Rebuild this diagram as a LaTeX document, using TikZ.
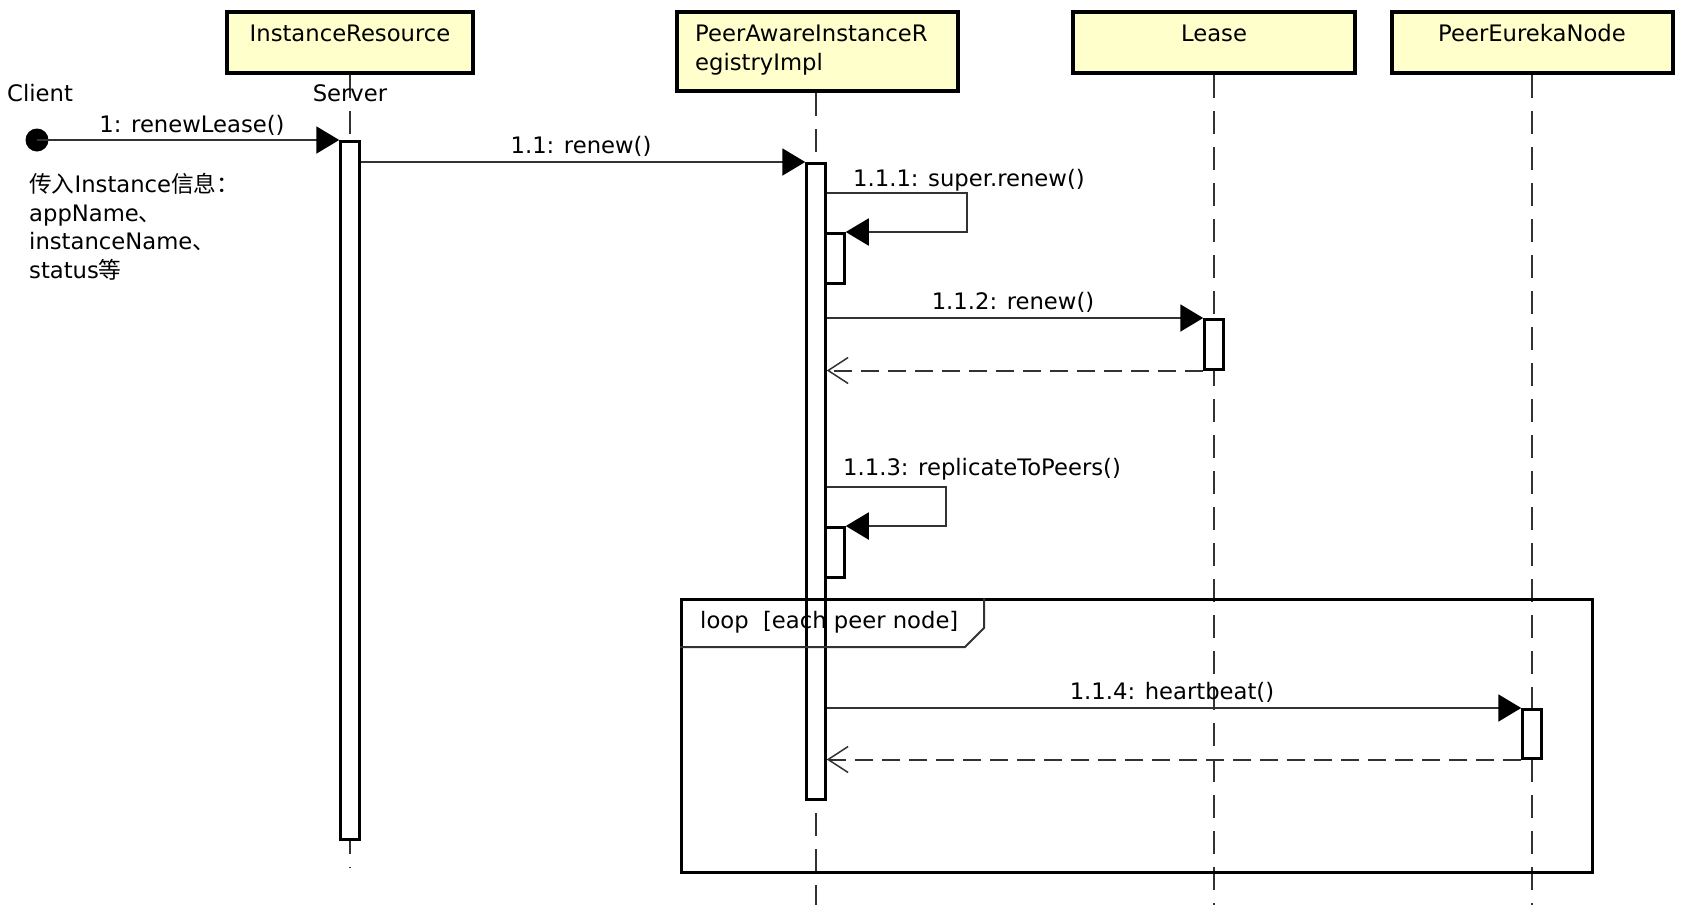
\documentclass[tikz,border=0pt]{standalone}
\usepackage{fontspec}
\setmainfont{DejaVu Sans}
\newfontfamily\cjk{Noto Sans CJK SC}
\usetikzlibrary{arrows.meta}
\definecolor{boxfill}{RGB}{255,255,204}
\definecolor{linegray}{RGB}{50,50,50}
\tikzset{
  cls/.style={draw=black, line width=4pt, fill=boxfill, inner sep=0, anchor=north},
  life/.style={draw=linegray, line width=2pt, dash pattern=on 23pt off 13pt},
  act/.style={draw=black, line width=2.5pt, fill=white, inner sep=0, minimum width=19pt, anchor=north},
  msg/.style={draw=linegray, line width=2pt, -{Triangle[length=23pt,width=27pt,color=black]}},
  ret/.style={draw=linegray, line width=2pt, dash pattern=on 18pt off 9pt, -{Straight Barb[length=20pt,width=26pt,line width=1.5pt]}},
  lbl/.style={inner sep=0, anchor=base},
  lblw/.style={inner sep=0, anchor=base west},
}
\begin{document}
\begin{tikzpicture}[x=1pt, y=-1pt, font=\fontsize{22.7}{28.5}\selectfont]
\useasboundingbox (0,0) rectangle (1684,916);
% lifeline boxes
\node[cls, minimum width=246pt, minimum height=61pt] (ir) at (350,10) {};
\node[cls, minimum width=281pt, minimum height=79pt, anchor=north west] (pa) at (675,10) {};
\node[cls, minimum width=282pt, minimum height=61pt] (lease) at (1214,10) {};
\node[cls, minimum width=281pt, minimum height=61pt] (pen) at (1532,10) {};
\node[lbl] (irt) at (350,41) {InstanceResource};
\node[lblw, align=left] (pat) at (695,70) {PeerAwareInstanceR\\egistryImpl};
\node[lbl] (leaset) at (1214,41) {Lease};
\node[lbl] (pent) at (1532,41) {PeerEurekaNode};
% lifelines
\coordinate (irend) at (350,868);
\coordinate (paend) at (816,905);
\coordinate (leaseend) at (1214,905);
\coordinate (penend) at (1532,905);
\draw[life] (ir.south) -- (irend);
\draw[life] (pa.south -| paend) -- (paend);
\draw[life] (lease.south) -- (leaseend);
\draw[life] (pen.south) -- (penend);
% actor labels
\node[lblw] (client) at (7,101) {Client};
\node[lbl] (server) at (350,101) {Server};
% activations
\node[act, minimum height=698pt] (a1) at (350,140) {};
\node[act, minimum height=636pt] (a2) at (816,162) {};
\node[act, minimum height=50pt] (a3) at (835,232) {};
\node[act, minimum height=50pt] (a4) at (1214,318) {};
\node[act, minimum height=50pt] (a5) at (835,526) {};
\node[act, minimum height=49pt] (a6) at (1532,708) {};
% client dot
\node[circle, fill=black, minimum size=23pt, inner sep=0] (dot) at (37,140) {};
% messages
\draw[msg] (dot.center) -- (a1.north west);
\node[lbl] (m1) at (192,132) {1: renewLease()};
\draw[msg] (a1.east |- 0,162) -- (a2.north west);
\node[lbl] (m11) at (581,153) {1.1: renew()};
\coordinate (s1a) at (967,193);
\coordinate (s1b) at (967,232);
\draw[msg] (a2.east |- s1a) -- (s1a) -- (s1b) -- (a3.north east);
\node[lblw] (m111) at (853,186) {1.1.1: super.renew()};
\draw[msg] (a2.east |- a4.north) -- (a4.north west);
\node[lbl] (m112) at (1013,309) {1.1.2: renew()};
\draw[ret] (a4.south west) -- (a2.east |- a4.south);
\coordinate (s2a) at (946,487);
\coordinate (s2b) at (946,526);
\draw[msg] (a2.east |- s2a) -- (s2a) -- (s2b) -- (a5.north east);
\node[lblw] (m113) at (843,475) {1.1.3: replicateToPeers()};
\draw[msg] (a2.east |- a6.north) -- (a6.north west);
\node[lbl] (m114) at (1172,699) {1.1.4: heartbeat()};
\draw[ret] (a6.south west) -- (a2.east |- a6.south);
% note
\node[lblw, align=left] (note) at (29,278) {{\cjk 传入}Instance{\cjk 信息：}\\appName{\cjk 、}\\instanceName{\cjk 、}\\status{\cjk 等}};
% loop frame
\node[draw=black, line width=3pt, minimum width=911pt, minimum height=273pt, anchor=north west, inner sep=0] (frame) at (680,598) {};
\coordinate (pg1) at (984,598);
\coordinate (pg2) at (984,628);
\coordinate (pg3) at (965,647);
\draw[draw=linegray, line width=2pt] (pg1) -- (pg2) -- (pg3) -- (frame.west |- pg3);
\node[lblw] (looplbl) at (700,628) {loop\ \ [each peer node]};
\end{tikzpicture}
\end{document}
